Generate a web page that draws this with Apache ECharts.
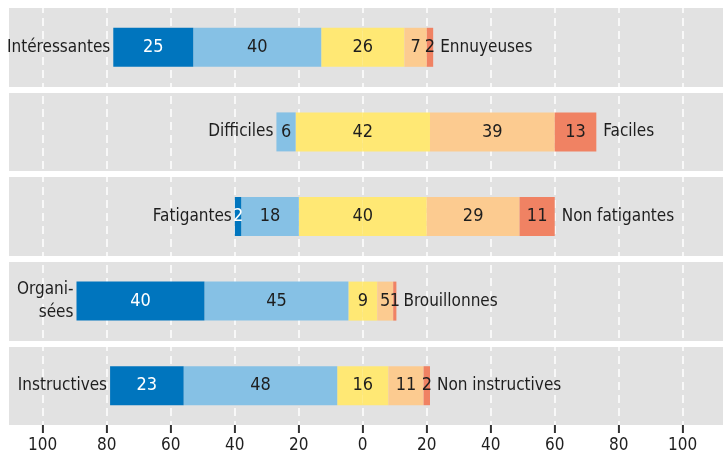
<!DOCTYPE html>
<html lang="fr">
<head>
    <meta charset="UTF-8">
    <script src="https://cdn.jsdelivr.net/npm/echarts@6/dist/echarts.min.js"></script>
    <title>Appréciation des cours</title>
    <style>
        html, body { margin: 0; padding: 0; background: #ffffff; }
        #chart { width: 724px; height: 457px; }
    </style>
</head>
<body>
    <div id="chart"></div>
    <script>
        // libellés de gauche et de droite (une ligne par paire)
        var labelsLeft = ['Intéressantes', 'Difficiles', 'Fatigantes', 'Organi-\nsées', 'Instructives'];
        var labelsRight = ['Ennuyeuses', 'Faciles', 'Non fatigantes', 'Brouillonnes', 'Non instructives'];

        // parts en %, du plus proche du libellé de gauche au plus proche de celui de droite
        var tresGauche = [25, 0, 2, 40, 23];
        var plutotGauche = [40, 6, 18, 45, 48];
        var neutre = [26, 42, 40, 9, 16];
        var plutotDroite = [7, 39, 29, 5, 11];
        var tresDroite = [2, 13, 11, 1, 2];

        var ticks = [-100, -80, -60, -40, -20, 0, 20, 40, 60, 80, 100];

        var FONT = '"DejaVu Sans Condensed", "Liberation Sans Narrow", sans-serif';
        var TXT = '#1e1e1e';

        function neg(arr) { return arr.map(function (v) { return -v; }); }
        function half(arr, sign) { return arr.map(function (v) { return sign * v / 2; }); }

        function valueLabel(color) {
            return {
                show: true,
                color: color,
                fontFamily: FONT,
                fontSize: 18,
                formatter: function (p) {
                    var v = Math.abs(p.value);
                    return v === 0 ? '' : String(v);
                }
            };
        }

        function part(name, data, color, labelColor) {
            return {
                name: name,
                type: 'bar',
                stack: 'total',
                barWidth: 39,
                data: data,
                itemStyle: { color: color },
                label: valueLabel(labelColor),
                emphasis: { disabled: true }
            };
        }

        var chart = echarts.init(document.getElementById('chart'));

        var series = [
            // côté gauche : empilé depuis 0 vers la gauche
            {
                name: 'neutreG', type: 'bar', stack: 'total', barWidth: 39,
                data: half(neutre, -1),
                itemStyle: { color: '#FFE874' },
                label: { show: false },
                emphasis: { disabled: true }
            },
            part('plutotG', neg(plutotGauche), '#86C1E5', TXT),
            part('tresG', neg(tresGauche), '#0075BE', '#ffffff'),
            {
                name: 'libG', type: 'bar', stack: 'total', barWidth: 39,
                data: labelsLeft.map(function () { return -0.001; }),
                itemStyle: { color: 'rgba(0,0,0,0)' },
                label: {
                    show: true, position: 'left', distance: 3,
                    color: TXT, fontFamily: FONT, fontSize: 17, lineHeight: 23, align: 'right',
                    formatter: function (p) { return labelsLeft[p.dataIndex]; }
                },
                emphasis: { disabled: true }
            },
            // côté droit
            {
                name: 'neutreD', type: 'bar', stack: 'total', barWidth: 39,
                data: half(neutre, 1),
                itemStyle: { color: '#FFE874' },
                label: {
                    show: true, position: ['0%', '50%'], align: 'center', verticalAlign: 'middle',
                    color: TXT, fontFamily: FONT, fontSize: 18,
                    formatter: function (p) { return String(neutre[p.dataIndex]); }
                },
                emphasis: { disabled: true }
            },
            part('plutotD', plutotDroite, '#FCCB90', TXT),
            part('tresD', tresDroite, '#F08263', TXT),
            {
                name: 'libD', type: 'bar', stack: 'total', barWidth: 39,
                data: labelsRight.map(function () { return 0.001; }),
                itemStyle: { color: 'rgba(0,0,0,0)' },
                label: {
                    show: true, position: 'right', distance: 7,
                    color: TXT, fontFamily: FONT, fontSize: 17,
                    formatter: function (p) { return labelsRight[p.dataIndex]; }
                },
                emphasis: { disabled: true }
            },
            // graduations sous les panneaux, posées sur l'échelle -100..100
            {
                name: 'graduations', type: 'scatter',
                xAxisIndex: 1, yAxisIndex: 1,
                symbol: 'rect', symbolSize: [1.6, 8],
                silent: true, clip: false, z: 10,
                itemStyle: { color: '#2a2a2a' },
                data: ticks.map(function (t) { return [t, 0.5]; })
            }
        ];

        chart.setOption({
            animation: false,
            grid: [
                { left: 9, right: 1, top: 5, bottom: 29, containLabel: false, outerBoundsMode: 'none' },
                // bande de graduation -100..100 sous les panneaux
                { left: 42.7, right: 41.3, bottom: 24, height: 8, containLabel: false, outerBoundsMode: 'none' }
            ],
            xAxis: [{
                type: 'value',
                gridIndex: 0,
                min: -110.6,
                max: 112.6,
                axisLine: { show: false },
                axisTick: { show: false, customValues: ticks },
                axisLabel: { show: false },
                splitLine: {
                    show: true,
                    lineStyle: { color: '#ffffff', width: 1.5, type: [8, 5] }
                }
            }, {
                type: 'value',
                gridIndex: 1,
                z: 5,
                min: -100,
                max: 100,
                interval: 20,
                axisLine: { show: false },
                axisTick: { show: false },
                axisLabel: {
                    color: TXT, fontFamily: FONT, fontSize: 17, margin: 4,
                    formatter: function (v) { return String(Math.abs(v)); }
                },
                splitLine: { show: true, lineStyle: { color: '#2a2a2a', width: 1.6, type: 'solid' } }
            }],
            yAxis: [{
                type: 'category',
                gridIndex: 0,
                inverse: true,
                z: -1,
                data: labelsLeft,
                axisLine: { show: false },
                axisTick: { show: false },
                axisLabel: { show: false },
                splitArea: { show: true, areaStyle: { color: ['#E2E2E2', '#E2E2E2'] } },
                splitLine: { show: true, lineStyle: { color: '#ffffff', width: 6 } }
            }, {
                type: 'value',
                gridIndex: 1,
                min: 0,
                max: 1,
                show: false
            }],
            series: series
        });
    </script>
</body>
</html>
